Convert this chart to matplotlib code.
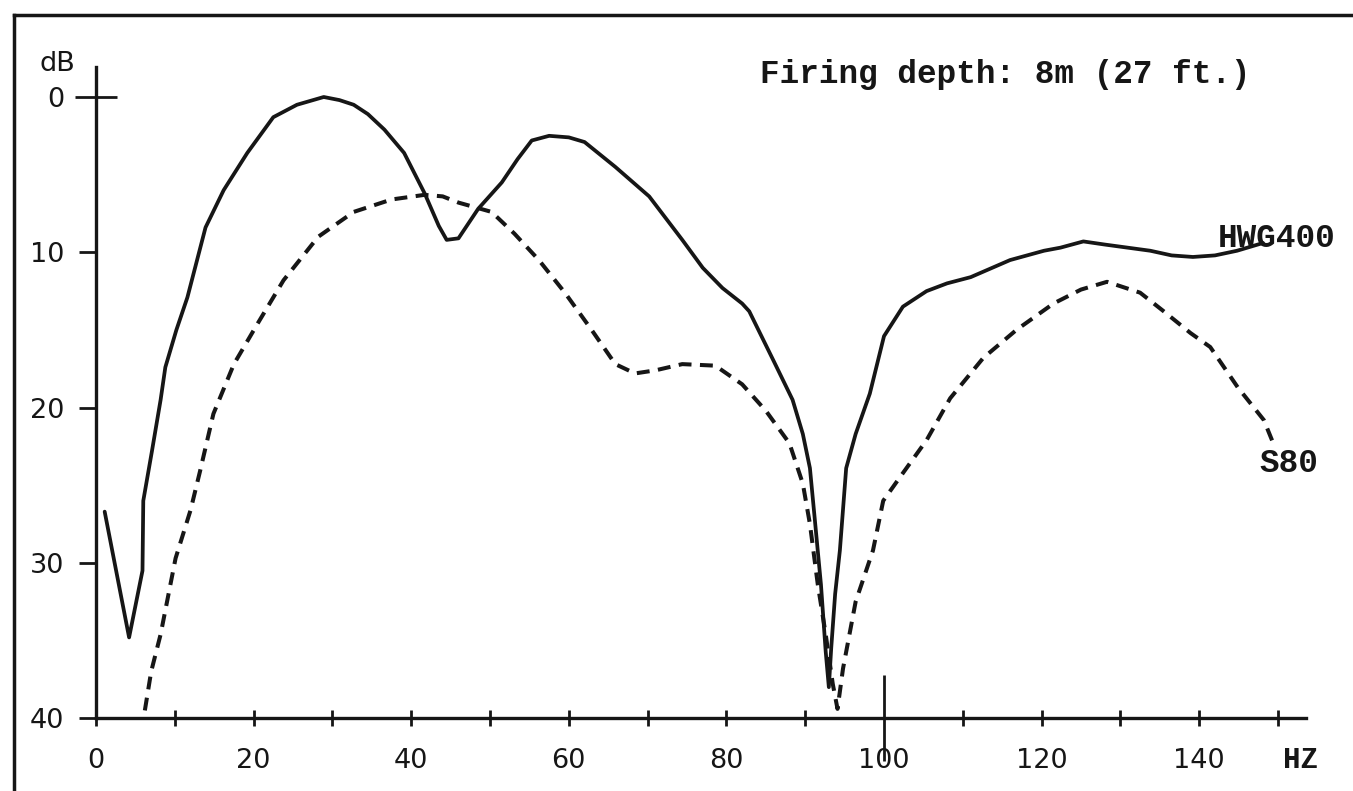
import matplotlib
matplotlib.use("Agg")
import matplotlib.pyplot as plt
from matplotlib.lines import Line2D

# ---- data (Hz, dB attenuation) ----
hwg_hz = [1.1, 4.2, 5.9, 6.0, 7.1, 8.2, 8.8, 10.2, 11.6, 13.9, 16.2, 19.2, 22.5, 25.5, 28.9,
          30.9, 32.7, 34.5, 36.6, 39.1, 41.7, 43.5, 44.5, 46.0, 48.5, 51.5, 53.5, 55.3,
          57.5, 60.0, 62.0, 65.9, 70.2, 74.4, 77.0, 79.5, 82.0, 82.9, 86.0, 88.4, 89.7,
          90.6, 91.2, 92.0, 92.6, 93.0, 93.3, 93.8, 94.4, 95.2, 96.4, 98.2, 100.0, 102.4,
          105.4, 108.0, 111.0, 116.0, 120.3, 122.4, 125.3, 128.0, 133.8, 136.5, 139.2,
          142.0, 144.8, 148.1]
hwg_db = [26.7, 34.8, 30.5, 26.0, 22.8, 19.5, 17.4, 15.0, 12.9, 8.4, 6.0, 3.6, 1.3, 0.5, 0.0,
          0.2, 0.5, 1.1, 2.1, 3.6, 6.2, 8.3, 9.2, 9.1, 7.2, 5.5, 4.0, 2.8,
          2.5, 2.6, 2.9, 4.5, 6.4, 9.2, 11.0, 12.3, 13.3, 13.8, 17.0, 19.5, 21.7,
          23.9, 27.1, 31.4, 35.7, 38.0, 35.5, 32.0, 29.2, 23.9, 21.7, 19.1, 15.4, 13.5,
          12.5, 12.0, 11.6, 10.5, 9.9, 9.7, 9.3, 9.5, 9.9, 10.2, 10.3,
          10.2, 9.9, 9.4]

s80_hz = [6.2, 7.0, 8.2, 10.1, 12.0, 13.2, 14.9, 17.5, 20.5, 23.8, 28.2, 32.7, 37.5,
          41.7, 44.0, 46.0, 50.2, 53.1, 56.2, 59.5, 62.9, 65.9, 68.4, 71.0, 74.4, 78.6,
          82.0, 85.0, 88.0, 89.7, 90.6, 91.6, 92.6, 93.5, 94.1, 94.8, 96.4, 98.6, 99.9,
          102.0, 105.4, 108.4, 112.6, 116.8, 121.5, 125.0, 128.3, 132.5, 135.5, 138.9,
          141.4, 144.9, 148.2, 149.4]
s80_db = [39.5, 37.0, 34.6, 29.7, 26.6, 24.1, 20.4, 17.2, 14.6, 11.8, 9.0, 7.4, 6.6,
          6.3, 6.4, 6.8, 7.4, 8.8, 10.5, 12.6, 15.0, 17.2, 17.8, 17.6, 17.2, 17.3,
          18.5, 20.2, 22.3, 24.9, 27.5, 31.4, 34.6, 37.8, 39.4, 36.8, 32.5, 29.2, 26.0,
          24.5, 22.1, 19.4, 16.8, 15.0, 13.3, 12.4, 11.9, 12.6, 13.8, 15.2,
          16.1, 18.7, 20.8, 22.3]

x_ticks = [0, 10, 20, 30, 40, 50, 60, 70, 80, 90, 110, 120, 130, 140, 150]
x_labels = ["0", "", "20", "", "40", "", "60", "", "80", "", "", "120", "", "140", ""]
y_ticks = [10, 20, 30, 40]
y_labels = ["10", "20", "30", "40"]

INK = "#161616"
W, H = 1353, 791
fig = plt.figure(figsize=(W / 100, H / 100), dpi=100, facecolor="white")
ax = fig.add_axes([0, 0, 1, 1])
ax.set_facecolor("white")

# pixel mapping: 0 Hz -> px 96, 7.88 px/Hz ; 0 dB -> py 97, 15.53 px/dB
ax.set_xlim(-96 / 7.88, (W - 96) / 7.88)
ax.set_ylim((H - 97) / 15.53, -97 / 15.53)

ax.plot(hwg_hz, hwg_db, color=INK, lw=2.7, solid_joinstyle="round", solid_capstyle="round")
ax.plot(s80_hz, s80_db, color=INK, lw=2.9, linestyle=(0, (3.2, 2.1)))

for s in ("top", "right"):
    ax.spines[s].set_visible(False)
ax.spines["left"].set_position(("data", 0))
ax.spines["left"].set_bounds(-1.9, 40)
ax.spines["bottom"].set_position(("data", 40))
ax.spines["bottom"].set_bounds(0, 153.5)
for s in ("left", "bottom"):
    ax.spines[s].set_linewidth(2.4)
    ax.spines[s].set_color(INK)

FS = 19.5
ax.set_xticks(x_ticks, labels=x_labels)
ax.set_xticks([100], labels=["100"], minor=True)
ax.set_yticks(y_ticks, labels=y_labels)
ax.set_yticks([0], labels=["0"], minor=True)
for lab in ax.get_xticklabels(which="both") + ax.get_yticklabels(which="both"):
    lab.set_fontfamily("DejaVu Sans")
    lab.set_fontsize(FS)
    lab.set_color(INK)

ax.tick_params(axis="x", which="major", direction="inout", length=11.5, width=2.0,
               color=INK, pad=15.5)
ax.tick_params(axis="x", which="minor", direction="inout", length=62, width=2.0,
               color=INK, pad=-9.5)
ax.tick_params(axis="y", which="major", direction="out", length=12, width=2.0,
               color=INK, pad=11)
ax.tick_params(axis="y", which="minor", direction="inout", length=30, width=2.0,
               color=INK, pad=8)

# texts
ax.text(-4.9, -2.1, "dB", ha="center", va="center", color=INK,
        family="DejaVu Sans", size=FS)
fig.text(1005 / W, 1 - 75 / H, "Firing depth: 8m (27 ft.)", ha="center", va="center",
         family="Liberation Mono", weight="bold", size=23.5, color=INK)
ax.text(142.4, 9.66, "HWG400", ha="left", va="baseline", family="Liberation Mono",
        weight="bold", size=23.5, color=INK)
ax.text(147.7, 24.15, "S80", ha="left", va="baseline", family="Liberation Mono",
        weight="bold", size=23.5, color=INK)
ax.text(150.6, 43.2, "HZ", ha="left", va="baseline", family="Liberation Mono",
        weight="bold", size=21, color=INK)

# outer frame (left and top borders)
fig.add_artist(Line2D([14 / W, 14 / W], [0, 1 - 15 / H], transform=fig.transFigure,
                      color=INK, lw=2.5))
fig.add_artist(Line2D([14 / W, 1], [1 - 15 / H, 1 - 15 / H], transform=fig.transFigure,
                      color=INK, lw=2.5))

fig.savefig("out.png", dpi=100, facecolor="white")
